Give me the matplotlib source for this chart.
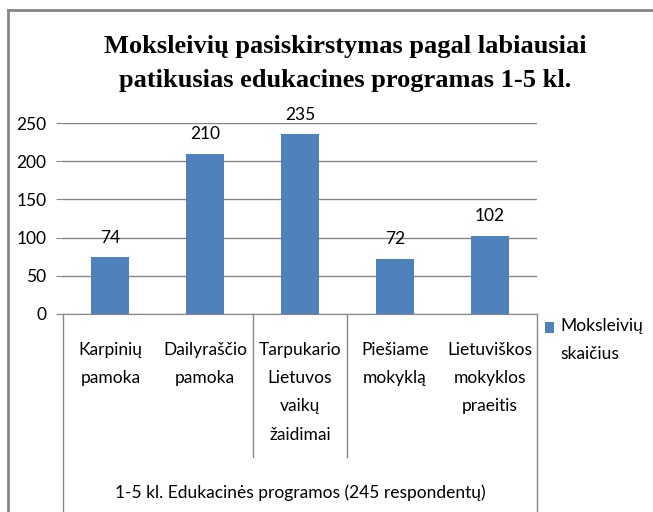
import numpy as np
import matplotlib
matplotlib.use("Agg")
import matplotlib.pyplot as plt
from matplotlib.lines import Line2D
from matplotlib.patches import Rectangle
from matplotlib.legend_handler import HandlerPatch, update_from_first_child

programs = ["Karpinių\npamoka", "Dailyraščio\npamoka", "Tarpukario\nLietuvos\nvaikų\nžaidimai",
            "Piešiame\nmokyklą", "Lietuviškos\nmokyklos\npraeitis"]
students = [74, 210, 235, 72, 102]
y_ticks = [0, 50, 100, 150, 200, 250]

title = "Moksleivių pasiskirstymas pagal labiausiai\npatikusias edukacines programas 1-5 kl."
x_title = "1-5 kl. Edukacinės programos (245 respondentų)"
series_name = "Moksleivių\nskaičius"

W, H = 653, 512
plt.rcParams["font.family"] = ["Lato", "DejaVu Sans"]
grid_col = "#868686"
bar_col = "#4F81BD"
fs = 12.5
ls = 1.95

fig = plt.figure(figsize=(W / 100, H / 100), dpi=100)

# plot area in pixel coords: x 63..537, y 123 (250) .. 314 (0)
ax = fig.add_axes([63 / W, 1 - 314 / H, 474 / W, 191 / H])

x = np.arange(len(programs))
bars = ax.bar(x, students, width=0.4, color=bar_col, label=series_name, zorder=3)
ax.bar_label(bars, padding=8.5, fontsize=fs)

ax.set_xlim(-0.5, len(programs) - 0.5)
ax.set_ylim(0, 250)
ax.set_yticks(y_ticks)
ax.tick_params(axis="y", length=5, color=grid_col, labelsize=fs, pad=7)
ax.set_xticks(x)
ax.set_xticklabels(programs, fontsize=fs, linespacing=ls)
ax.tick_params(axis="x", length=0, pad=20)
ax.grid(axis="y", color=grid_col, linewidth=1, zorder=0)

for s in ["top", "right", "left"]:
    ax.spines[s].set_visible(False)
ax.spines["bottom"].set_color(grid_col)
ax.spines["bottom"].set_zorder(4)

# boxes around the category labels
tr = ax.get_xaxis_transform()
bottom_fig = -(H - 314) / 191
sep_end = -(457 - 314) / 191
for xv, yend in [(-0.5, bottom_fig), (4.5, bottom_fig), (1.5, sep_end), (2.5, sep_end)]:
    ax.plot([xv, xv], [0, yend], transform=tr, color=grid_col, lw=1, clip_on=False)

ax.set_xlabel(x_title, fontsize=fs)
ax.xaxis.set_label_coords(0.5, -(484 - 314) / 191)

fig.text(345 / W, 1 - 35 / H, title, ha="center", va="top", fontsize=19, fontweight="bold",
         family=["Liberation Serif", "DejaVu Serif"], linespacing=1.6)


# legend square sits next to the first line of the two-line label
def top_square(legend, orig_handle, xdescent, ydescent, width, height, fontsize):
    sq = 8
    return Rectangle((-xdescent, -ydescent + height / 2 + 9.7 - sq / 2), width, sq)


leg = ax.legend(loc="upper left", bbox_to_anchor=(545 / W, 1 - 318 / H), bbox_transform=fig.transFigure,
                frameon=False, fontsize=fs, handlelength=0.52, handletextpad=0.35,
                borderaxespad=0, borderpad=0,
                handler_map={bars: HandlerPatch(patch_func=top_square, update_func=update_from_first_child)})
leg.get_texts()[0].set_linespacing(ls)

# outer chart frame (left and top edges only visible)
fig.add_artist(Line2D([7.5 / W, 7.5 / W], [0, 1 - 9.5 / H], color=grid_col, lw=2))
fig.add_artist(Line2D([7.5 / W, 1], [1 - 9.5 / H, 1 - 9.5 / H], color=grid_col, lw=2))

fig.savefig("out.png", dpi=100)
